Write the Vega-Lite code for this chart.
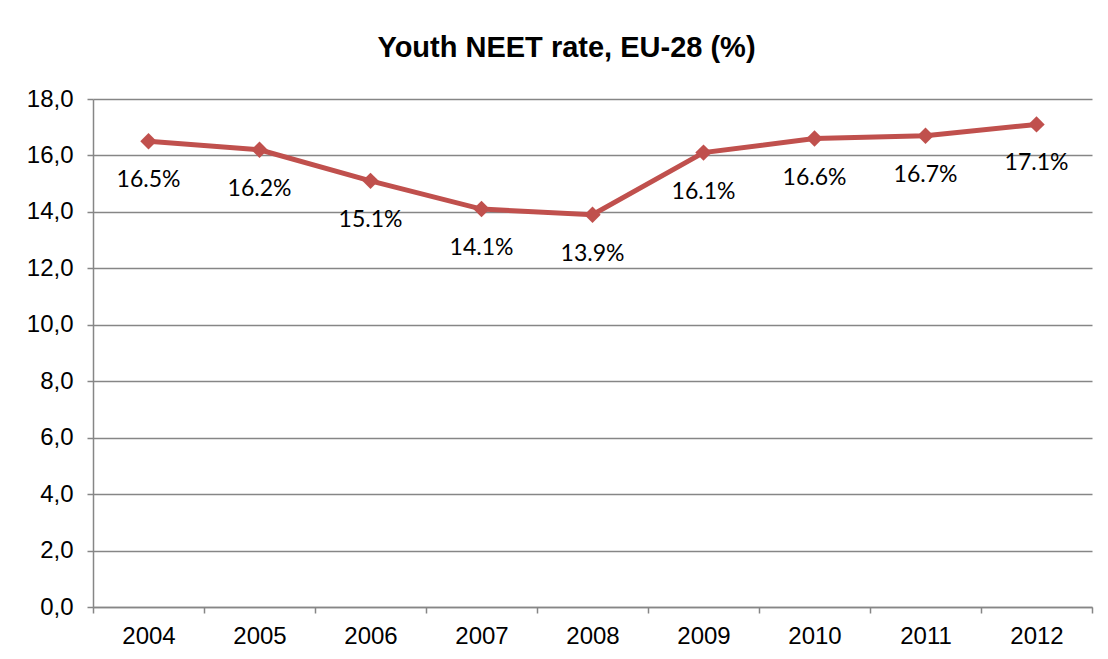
{
  "$schema": "https://vega.github.io/schema/vega-lite/v6.json",
  "autosize": {"type": "none"},
  "padding": {"left": 93, "top": 99, "right": 16, "bottom": 52},
  "width": 999,
  "height": 508,
  "background": "white",
  "title": {
    "text": "Youth NEET rate, EU-28 (%)",
    "font": "Liberation Sans",
    "fontSize": 29,
    "fontWeight": "bold",
    "color": "black",
    "frame": "group",
    "anchor": "middle",
    "baseline": "alphabetic",
    "offset": 1,
    "dx": -26
  },
  "data": {
    "values": [
      {"year": "2004", "rate": 16.5},
      {"year": "2005", "rate": 16.2},
      {"year": "2006", "rate": 15.1},
      {"year": "2007", "rate": 14.1},
      {"year": "2008", "rate": 13.9},
      {"year": "2009", "rate": 16.1},
      {"year": "2010", "rate": 16.6},
      {"year": "2011", "rate": 16.7},
      {"year": "2012", "rate": 17.1}
    ]
  },
  "transform": [{"calculate": "format(datum.rate, '.1f') + '%'", "as": "label"}],
  "encoding": {
    "x": {
      "field": "year",
      "type": "ordinal",
      "scale": {"type": "band", "paddingInner": 0, "paddingOuter": 0},
      "axis": {
        "title": null,
        "labelAngle": 0,
        "labelFont": "Liberation Sans",
        "labelFontSize": 24,
        "labelColor": "black",
        "tickBand": "extent",
        "tickSize": 6,
        "tickColor": "#868686",
        "tickWidth": 1.5,
        "domainColor": "#868686",
        "domainWidth": 1.5,
        "labelPadding": 11,
        "grid": false
      }
    },
    "y": {
      "field": "rate",
      "type": "quantitative",
      "scale": {"domain": [0, 18], "nice": false, "zero": true},
      "axis": {
        "title": null,
        "values": [0, 2, 4, 6, 8, 10, 12, 14, 16, 18],
        "labelExpr": "replace(format(datum.value, '.1f'), '.', ',')",
        "labelFont": "Liberation Sans",
        "labelFontSize": 24,
        "labelColor": "black",
        "tickSize": 6,
        "tickColor": "#868686",
        "tickWidth": 1.5,
        "domainColor": "#868686",
        "domainWidth": 1.5,
        "gridColor": "#868686",
        "gridWidth": 1.5,
        "labelPadding": 14
      }
    }
  },
  "layer": [
    {
      "mark": {"type": "line", "color": "#C0504D", "strokeWidth": 5}
    },
    {
      "mark": {"type": "point", "shape": "diamond", "filled": true, "color": "#C0504D", "opacity": 1, "size": 270}
    },
    {
      "mark": {"type": "text", "font": "Lato", "fontSize": 23, "color": "black", "baseline": "middle", "dy": 39},
      "encoding": {"text": {"field": "label"}}
    }
  ],
  "config": {"view": {"stroke": null}}
}
